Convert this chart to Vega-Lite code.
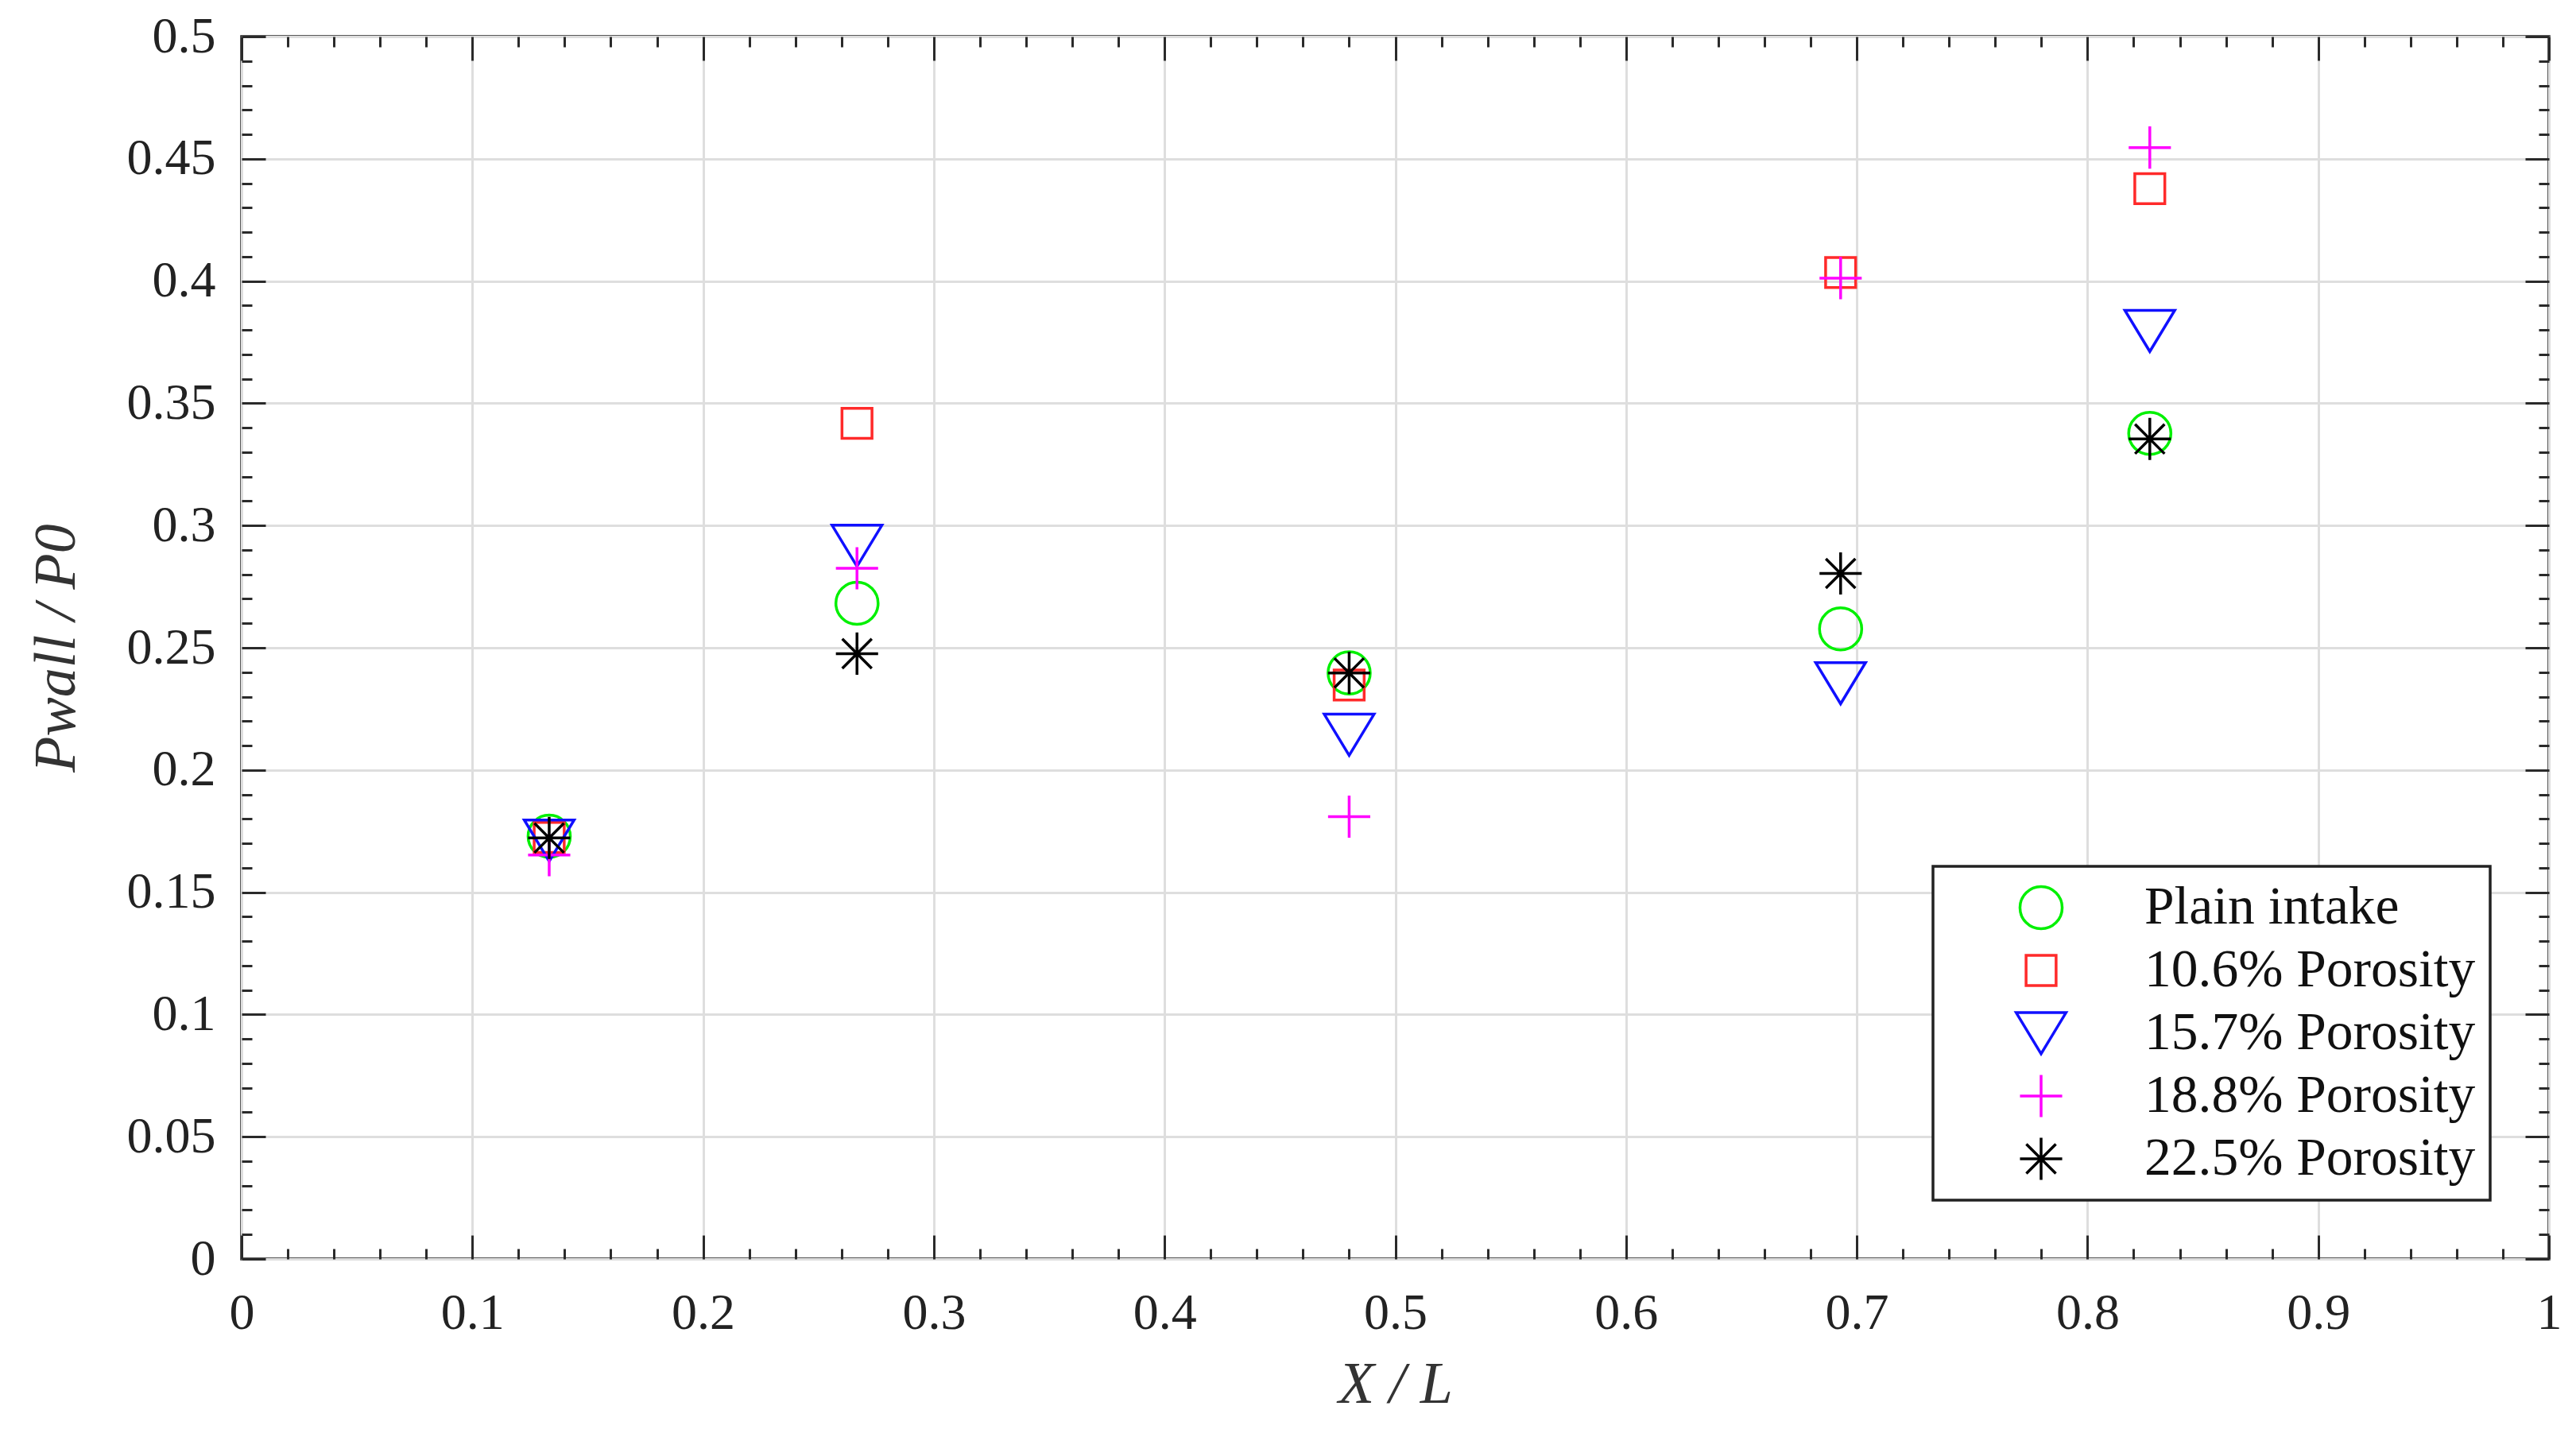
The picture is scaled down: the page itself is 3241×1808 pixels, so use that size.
{
  "$schema": "https://vega.github.io/schema/vega-lite/v6.json",
  "width": 2903,
  "height": 1538,
  "autosize": {"type": "none"},
  "padding": {"left": 304, "top": 46, "right": 34, "bottom": 224},
  "background": "white",
  "data": {
    "values": [
      {"xl": 0.1333, "p": 0.1729, "series": "Plain intake"},
      {"xl": 0.2667, "p": 0.2682, "series": "Plain intake"},
      {"xl": 0.48, "p": 0.2397, "series": "Plain intake"},
      {"xl": 0.693, "p": 0.2577, "series": "Plain intake"},
      {"xl": 0.827, "p": 0.3377, "series": "Plain intake"},
      {"xl": 0.1333, "p": 0.1724, "series": "10.6% Porosity"},
      {"xl": 0.2667, "p": 0.3418, "series": "10.6% Porosity"},
      {"xl": 0.48, "p": 0.2348, "series": "10.6% Porosity"},
      {"xl": 0.693, "p": 0.4035, "series": "10.6% Porosity"},
      {"xl": 0.827, "p": 0.4378, "series": "10.6% Porosity"},
      {"xl": 0.1333, "p": 0.1711, "series": "15.7% Porosity"},
      {"xl": 0.2667, "p": 0.2917, "series": "15.7% Porosity"},
      {"xl": 0.48, "p": 0.2144, "series": "15.7% Porosity"},
      {"xl": 0.693, "p": 0.2355, "series": "15.7% Porosity"},
      {"xl": 0.827, "p": 0.3796, "series": "15.7% Porosity"},
      {"xl": 0.1333, "p": 0.1652, "series": "18.8% Porosity"},
      {"xl": 0.2667, "p": 0.2825, "series": "18.8% Porosity"},
      {"xl": 0.48, "p": 0.1809, "series": "18.8% Porosity"},
      {"xl": 0.693, "p": 0.4012, "series": "18.8% Porosity"},
      {"xl": 0.827, "p": 0.4546, "series": "18.8% Porosity"},
      {"xl": 0.1333, "p": 0.1722, "series": "22.5% Porosity"},
      {"xl": 0.2667, "p": 0.2476, "series": "22.5% Porosity"},
      {"xl": 0.48, "p": 0.2397, "series": "22.5% Porosity"},
      {"xl": 0.693, "p": 0.2804, "series": "22.5% Porosity"},
      {"xl": 0.827, "p": 0.3354, "series": "22.5% Porosity"}
    ]
  },
  "layer": [
    {
      "mark": {"type": "point", "filled": false, "strokeWidth": 3.5, "opacity": 1, "size": 4096},
      "encoding": {
        "x": {
          "field": "xl",
          "type": "quantitative",
          "scale": {"domain": [0, 1], "nice": false, "zero": false},
          "axis": {
            "orient": "bottom",
            "values": [0, 0.1, 0.2, 0.3, 0.4, 0.5, 0.6, 0.7, 0.8, 0.9, 1],
            "format": "~g",
            "grid": true,
            "tickSize": -30,
            "labelPadding": 66,
            "labelFlush": false,
            "title": "X / L",
            "titleFontStyle": "italic",
            "titlePadding": 22
          }
        },
        "y": {
          "field": "p",
          "type": "quantitative",
          "scale": {"domain": [0, 0.5], "nice": false, "zero": false},
          "axis": {
            "orient": "left",
            "values": [0, 0.05, 0.1, 0.15, 0.2, 0.25, 0.3, 0.35, 0.4, 0.45, 0.5],
            "format": "~g",
            "grid": true,
            "tickSize": -30,
            "labelPadding": 63,
            "labelFlush": false,
            "title": "Pwall / P0",
            "titleFontStyle": "italic",
            "titlePadding": 50
          }
        },
        "color": {
          "field": "series",
          "type": "nominal",
          "title": null,
          "scale": {
            "domain": ["Plain intake", "10.6% Porosity", "15.7% Porosity", "18.8% Porosity", "22.5% Porosity"],
            "range": ["#00f000", "#ff2a2a", "#1010ff", "#ff00ff", "#000000"]
          },
          "legend": {
            "orient": "bottom-right",
            "offset": 74
          }
        },
        "shape": {
          "field": "series",
          "type": "nominal",
          "title": null,
          "scale": {
            "domain": ["Plain intake", "10.6% Porosity", "15.7% Porosity", "18.8% Porosity", "22.5% Porosity"],
            "range": [
              "M0.83,0A0.83,0.83,0,1,1,-0.83,0A0.83,0.83,0,1,1,0.83,0Z",
              "M-0.59,-0.59H0.59V0.59H-0.59Z",
              "M-0.98,-0.81H0.98L0,0.81Z",
              "M-0.83,0H0.83M0,-0.83V0.83",
              "M-0.83,0H0.83M0,-0.83V0.83M-0.58,-0.58L0.58,0.58M-0.58,0.58L0.58,-0.58"
            ]
          },
          "legend": {
            "orient": "bottom-right",
            "offset": 74
          }
        }
      }
    },
    {
      "mark": {"type": "point", "opacity": 0},
      "encoding": {
        "x": {
          "field": "xl",
          "type": "quantitative",
          "scale": {"domain": [0, 1], "nice": false, "zero": false},
          "axis": {
            "orient": "bottom",
            "values": [0.02, 0.04, 0.06, 0.08, 0.12, 0.14, 0.16, 0.18, 0.22, 0.24, 0.26, 0.28, 0.32, 0.34, 0.36, 0.38, 0.42, 0.44, 0.46, 0.48, 0.52, 0.54, 0.56, 0.58, 0.62, 0.64, 0.66, 0.68, 0.72, 0.74, 0.76, 0.78, 0.82, 0.84, 0.86, 0.88, 0.92, 0.94, 0.96, 0.98],
            "labels": false,
            "grid": false,
            "tickSize": -13,
            "title": null
          }
        },
        "y": {
          "field": "p",
          "type": "quantitative",
          "scale": {"domain": [0, 0.5], "nice": false, "zero": false},
          "axis": {
            "orient": "left",
            "values": [0.01, 0.02, 0.03, 0.04, 0.06, 0.07, 0.08, 0.09, 0.11, 0.12, 0.13, 0.14, 0.16, 0.17, 0.18, 0.19, 0.21, 0.22, 0.23, 0.24, 0.26, 0.27, 0.28, 0.29, 0.31, 0.32, 0.33, 0.34, 0.36, 0.37, 0.38, 0.39, 0.41, 0.42, 0.43, 0.44, 0.46, 0.47, 0.48, 0.49],
            "labels": false,
            "grid": false,
            "tickSize": -13,
            "title": null
          }
        }
      }
    },
    {
      "mark": {"type": "point", "opacity": 0},
      "encoding": {
        "x": {
          "field": "xl",
          "type": "quantitative",
          "scale": {"domain": [0, 1], "nice": false, "zero": false},
          "axis": {
            "orient": "top",
            "values": [0, 0.1, 0.2, 0.3, 0.4, 0.5, 0.6, 0.7, 0.8, 0.9, 1],
            "labels": false,
            "grid": false,
            "tickSize": -30,
            "title": null
          }
        },
        "y": {
          "field": "p",
          "type": "quantitative",
          "scale": {"domain": [0, 0.5], "nice": false, "zero": false},
          "axis": {
            "orient": "right",
            "values": [0, 0.05, 0.1, 0.15, 0.2, 0.25, 0.3, 0.35, 0.4, 0.45, 0.5],
            "labels": false,
            "grid": false,
            "tickSize": -30,
            "title": null
          }
        }
      }
    },
    {
      "mark": {"type": "point", "opacity": 0},
      "encoding": {
        "x": {
          "field": "xl",
          "type": "quantitative",
          "scale": {"domain": [0, 1], "nice": false, "zero": false},
          "axis": {
            "orient": "top",
            "values": [0.02, 0.04, 0.06, 0.08, 0.12, 0.14, 0.16, 0.18, 0.22, 0.24, 0.26, 0.28, 0.32, 0.34, 0.36, 0.38, 0.42, 0.44, 0.46, 0.48, 0.52, 0.54, 0.56, 0.58, 0.62, 0.64, 0.66, 0.68, 0.72, 0.74, 0.76, 0.78, 0.82, 0.84, 0.86, 0.88, 0.92, 0.94, 0.96, 0.98],
            "labels": false,
            "grid": false,
            "tickSize": -13,
            "title": null
          }
        },
        "y": {
          "field": "p",
          "type": "quantitative",
          "scale": {"domain": [0, 0.5], "nice": false, "zero": false},
          "axis": {
            "orient": "right",
            "values": [0.01, 0.02, 0.03, 0.04, 0.06, 0.07, 0.08, 0.09, 0.11, 0.12, 0.13, 0.14, 0.16, 0.17, 0.18, 0.19, 0.21, 0.22, 0.23, 0.24, 0.26, 0.27, 0.28, 0.29, 0.31, 0.32, 0.33, 0.34, 0.36, 0.37, 0.38, 0.39, 0.41, 0.42, 0.43, 0.44, 0.46, 0.47, 0.48, 0.49],
            "labels": false,
            "grid": false,
            "tickSize": -13,
            "title": null
          }
        }
      }
    }
  ],
  "resolve": {"axis": {"x": "independent", "y": "independent"}},
  "config": {
    "view": {"stroke": "#222222", "strokeWidth": 3.5},
    "font": "Liberation Serif",
    "axis": {
      "domain": false,
      "gridColor": "#dedede",
      "gridWidth": 3,
      "gridOpacity": 1,
      "tickColor": "#2a2a2a",
      "tickWidth": 3,
      "labelFont": "Liberation Serif",
      "labelFontSize": 64,
      "labelColor": "#222222",
      "labelFontWeight": "normal",
      "titleFont": "Liberation Serif",
      "titleFontSize": 74,
      "titleFontWeight": "normal",
      "titleColor": "#333333"
    },
    "legend": {
      "labelFont": "Liberation Serif",
      "labelFontSize": 67.5,
      "labelColor": "#111111",
      "labelLimit": 0,
      "symbolSize": 4096,
      "symbolStrokeWidth": 3.5,
      "symbolOffset": 84,
      "labelOffset": 96,
      "rowPadding": 11,
      "padding": 18,
      "strokeColor": "#222222",
      "strokeWidth": 3.5,
      "fillColor": "white"
    }
  }
}
